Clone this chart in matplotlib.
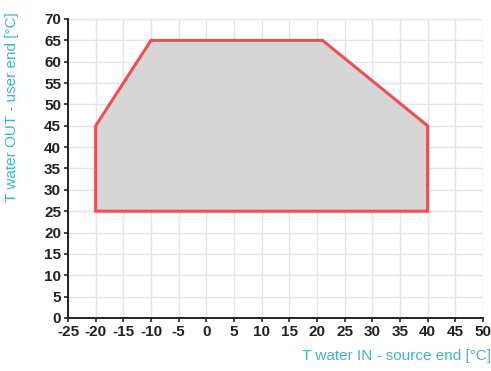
import matplotlib
matplotlib.use("Agg")
from matplotlib import pyplot as plt

# operating envelope corners (T in, T out)
t_in = [-20, -20, -10, 21, 40, 40]
t_out = [25, 45, 65, 65, 45, 25]

x_ticks = list(range(-25, 51, 5))
y_ticks = list(range(0, 71, 5))

plt.rcParams['font.family'] = ['Liberation Sans Narrow', 'Liberation Sans', 'DejaVu Sans']
plt.rcParams['axes.unicode_minus'] = False

fig = plt.figure(figsize=(4.91, 3.71), dpi=100)
ax = fig.add_axes([0.1385, 0.1429, 0.845, 0.8059])

ax.fill(t_in, t_out, facecolor='#d6d6d6', edgecolor='#ee4e55', linewidth=2.2, zorder=3)

ax.set_xlim(-25, 50)
ax.set_ylim(0, 70)
ax.set_xticks(x_ticks)
ax.set_yticks(y_ticks)
ax.grid(True, color='#e4e4e4', linewidth=1.0, zorder=0)
ax.set_axisbelow(True)

for side in ['top', 'right']:
    ax.spines[side].set_visible(False)
for side in ['left', 'bottom']:
    ax.spines[side].set_color('#222222')
    ax.spines[side].set_linewidth(1.4)
ax.tick_params(direction='out', length=3, width=1.2, color='#222222', pad=2,
               labelsize=11, labelcolor='#222222')
for lab in ax.get_xticklabels() + ax.get_yticklabels():
    lab.set_fontweight('bold')

fig.text(0.999, 0.022, 'T water IN - source end [°C]', ha='right', va='bottom',
         color='#3cb4d2', fontsize=11, family=['Liberation Sans', 'DejaVu Sans'])
fig.text(0.010, 0.71, 'T water OUT - user end [°C]', ha='left', va='center',
         rotation=90, color='#3cb4d2', fontsize=11, family=['Liberation Sans', 'DejaVu Sans'])

fig.savefig('out.png', dpi=100)
